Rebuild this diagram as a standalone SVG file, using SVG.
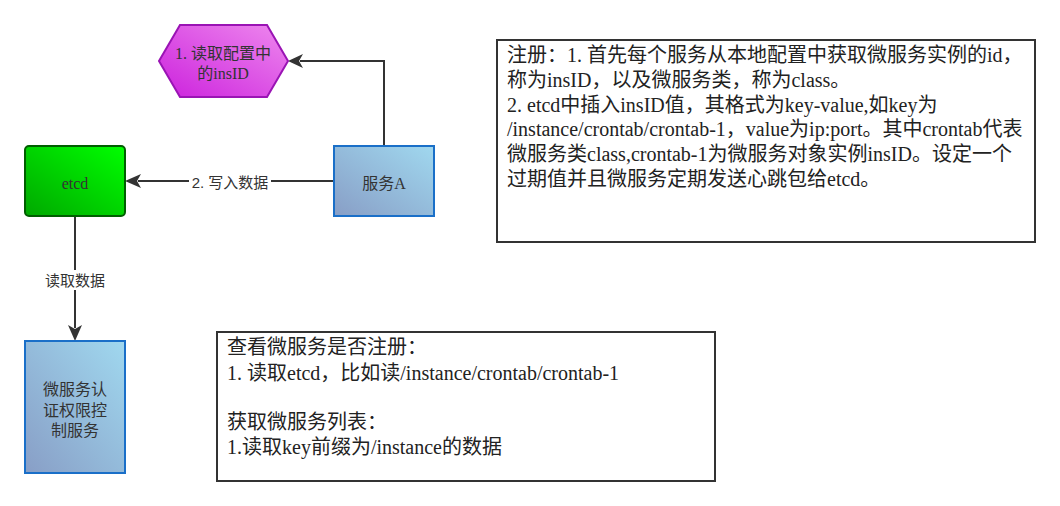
<svg xmlns="http://www.w3.org/2000/svg" width="1060" height="506" viewBox="0 0 1060 506">
<style>
.t{font-family:"Liberation Serif","Noto Sans CJK SC",serif;fill:#333;}
.n{font-size:16px;text-anchor:middle;}
.lbl{font-family:"Liberation Sans","Noto Sans CJK SC",sans-serif;font-size:15px;fill:#333;text-anchor:middle;}
.note{font-size:20px;fill:#222;}
.edge{fill:none;stroke:#333;stroke-width:2;}
.head{fill:#333;}
.box{fill:#fff;stroke:#333;stroke-width:2;}
.blue{fill:url(#gBlue);stroke:#1a6fc8;stroke-width:2;}
</style>
<defs>
<linearGradient id="gHex" x1="0" y1="1" x2="1" y2="0">
<stop offset="0" stop-color="#cc22dd"/><stop offset="1" stop-color="#ee88ee"/>
</linearGradient>
<linearGradient id="gGreen" x1="0" y1="1" x2="1" y2="0">
<stop offset="0" stop-color="#00a800"/><stop offset="1" stop-color="#00ff00"/>
</linearGradient>
<linearGradient id="gBlue" x1="0" y1="1" x2="1" y2="0">
<stop offset="0" stop-color="#889ec6"/><stop offset="1" stop-color="#a0d8ef"/>
</linearGradient>
</defs>
<rect width="1060" height="506" fill="#fff"/>
<g id="connectors">
<path class="edge" d="M384,146 V61 H300"/>
<path class="head" d="M288,61 L303,54 L299,61 L303,68 Z"/>
<path class="edge" d="M334,181 H138"/>
<path class="head" d="M125,181 L141,174 L137,181 L141,188 Z"/>
<rect x="189" y="172" width="82" height="20" fill="#fff"/>
<text class="lbl" x="230" y="188">2. 写入数据</text>
<path class="edge" d="M75,216 V328"/>
<path class="head" d="M75,341 L68,325 L75,329 L82,325 Z"/>
<rect x="42" y="270" width="66" height="20" fill="#fff"/>
<text class="lbl" x="75" y="286">读取数据</text>
</g>
<g id="hex">
<polygon points="159,61 180,25 267,25 288,61 267,97 180,97" fill="url(#gHex)" stroke="#9a14b4" stroke-width="2"/>
<text class="t n" x="223" y="59">1. 读取配置中</text>
<text class="t n" x="223" y="79">的insID</text>
</g>
<g id="etcd">
<rect x="25" y="146" width="100" height="70" rx="4" fill="url(#gGreen)" stroke="#005e00" stroke-width="2"/>
<text class="t n" x="75" y="189">etcd</text>
</g>
<g id="serviceA">
<rect class="blue" x="334" y="146" width="100" height="70"/>
<text class="t n" x="384" y="189">服务A</text>
</g>
<g id="auth">
<rect class="blue" x="25" y="341" width="100" height="132"/>
<text class="t n" x="75" y="395">微服务认</text>
<text class="t n" x="75" y="416">证权限控</text>
<text class="t n" x="75" y="436">制服务</text>
</g>
<g id="note1">
<rect class="box" x="497" y="40" width="538" height="202"/>
<text class="t note" x="507" y="62">注册：1. 首先每个服务从本地配置中获取微服务实例的id，</text>
<text class="t note" x="507" y="87">称为insID，以及微服务类，称为class。</text>
<text class="t note" x="507" y="112">2. etcd中插入insID值，其格式为key-value,如key为</text>
<text class="t note" x="507" y="136">/instance/crontab/crontab-1，value为ip:port。其中crontab代表</text>
<text class="t note" x="507" y="161">微服务类class,crontab-1为微服务对象实例insID。设定一个</text>
<text class="t note" x="507" y="186">过期值并且微服务定期发送心跳包给etcd。</text>
</g>
<g id="note2">
<rect class="box" x="217" y="332" width="498" height="149"/>
<text class="t note" x="227" y="354">查看微服务是否注册：</text>
<text class="t note" x="227" y="380">1. 读取etcd，比如读/instance/crontab/crontab-1</text>
<text class="t note" x="227" y="429">获取微服务列表：</text>
<text class="t note" x="227" y="454">1.读取key前缀为/instance的数据</text>
</g>
</svg>
